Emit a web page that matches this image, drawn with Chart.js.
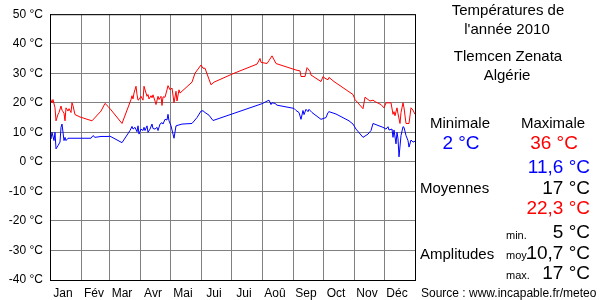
<!DOCTYPE html>
<html>
<head>
<meta charset="utf-8">
<script src="https://cdn.jsdelivr.net/npm/chart.js@4"></script>
<style>
  body { margin: 0; background: #fff; }
  canvas { display: block; }
</style>
</head>
<body>
<canvas id="temps" width="600" height="300"></canvas>
<script>
// day of year (0 = 1 Jan) and daily temperatures
const maxDays = [0, 2, 3, 5, 6, 8, 9, 11, 12, 14, 15, 16, 18, 19, 21, 22, 23, 25, 30, 42, 51, 55, 58, 61, 72,
  81, 82, 83, 84, 86, 87, 88, 89, 91, 93, 94, 96, 97, 98, 99, 101, 102, 103, 105, 106, 108, 109, 111, 112, 113,
  115, 117, 118, 120, 122, 124, 126, 127, 129, 130, 142, 145, 151, 153, 155, 161, 164, 184, 207, 210, 211, 217,
  219, 222, 226, 246, 250, 251, 255, 257, 258, 260, 261, 271, 273, 275, 278, 279, 284, 303, 305, 313, 315, 318,
  320, 323, 325, 331, 334, 336, 341, 343, 344, 345, 346, 347, 348, 350, 351, 353, 354, 356, 359, 361, 363, 365];
const maxTemps = [21.7, 20, 21.1, 18.3, 13.9, 16.1, 16.7, 18.9, 17.5, 16.5, 13.9, 18.3, 17.2, 18, 16.7, 20, 19, 16, 15.2, 13.9, 17.2, 19.8, 18.8, 17.6, 13,
  21.1, 22.4, 21.3, 23.3, 25.6, 22.8, 20.9, 21.1, 22.2, 20.9, 25.6, 23.3, 22.2, 22.8, 21.3, 22.4, 21.7, 22.7, 20.6, 19.4, 22.2, 21.1, 22.2, 19.1, 22,
  21.9, 24.4, 25.8, 24.4, 25, 20, 23.9, 20.6, 24.4, 23.3, 27, 30, 32.8, 31.7, 31.7, 26.1, 27, 30, 33.1, 35, 33.7, 33.3,
  34.3, 35.9, 33.3, 31.1, 30.8, 28.9, 28.9, 31.9, 31.5, 30.6, 29.4, 27.2, 28.9, 28.3, 27.8, 28.6, 27.2, 22.8, 21.1, 18, 21.9, 21.1,
  20.6, 20.9, 20.4, 19.4, 18.3, 20, 20, 16.1, 17, 15.6, 17, 18.3, 16.3, 13, 16.7, 20, 18.3, 13, 13, 18.3, 17.5, 16.1];

const minDays = [0, 1, 2, 4, 5, 6, 8, 10, 11, 12, 14, 15, 16, 18, 41, 43, 45, 51, 58, 60, 72, 80, 82, 83, 85, 87,
  88, 89, 91, 93, 94, 95, 97, 98, 100, 102, 103, 105, 107, 108, 110, 112, 113, 115, 117, 118, 119, 121, 123, 124,
  126, 128, 132, 142, 147, 151, 153, 155, 159, 163, 212, 219, 221, 222, 225, 227, 244, 246, 249, 251, 253, 254,
  256, 258, 259, 262, 271, 276, 278, 279, 286, 299, 303, 306, 313, 318, 321, 323, 329, 333, 336, 338, 339, 342,
  343, 344, 346, 347, 348, 349, 351, 353, 354, 356, 358, 359, 361, 363, 365];
const minTemps = [9.4, 7.8, 10, 7.2, 10, 4.4, 5.5, 6.7, 11.7, 12.8, 7.2, 8.3, 7.2, 8, 8, 8.9, 8.3, 8.6, 8.6, 8.7, 6.5, 10.6, 12, 11.1, 11.7, 10.2,
  12.2, 9.4, 11.1, 10.6, 11.7, 10.6, 12.2, 10, 11.1, 12.8, 11.3, 11.1, 11.7, 10.6, 12.8, 13.3, 12.8, 14.4, 14.2, 16.1, 13.9, 12.2, 9.4, 8,
  12.2, 12.4, 12.8, 13, 15, 17.2, 17.3, 16.7, 15.8, 14, 19.7, 20.9, 19.4, 20, 19.8, 19.2, 18.1, 17.4, 16.7, 14.4, 17.4, 16,
  17.8, 17, 17.8, 16.7, 14.4, 15, 16.7, 17, 16.2, 13.9, 12.8, 11.1, 8.3, 9.4, 10.6, 13, 12.2, 11.7, 11.1, 11.9, 10.8, 11.1,
  8.3, 10.8, 6.1, 10, 7.8, 1.7, 8.9, 11.9, 11.7, 8.9, 7.2, 5, 7.4, 6.7, 7];

const monthStarts = [0, 31, 59, 90, 120, 151, 181, 212, 243, 273, 304, 334, 365];
const monthLabels = ['Jan', 'Fév', 'Mar', 'Avr', 'Mai', 'Jui', 'Jui', 'Aoû', 'Sep', 'Oct', 'Nov', 'Déc', ''];

const titleLines = ['Températures de', "l'année 2010", 'Tlemcen Zenata', 'Algérie'];
const extremes = ['2 °C', '36 °C'];
const averages = ['11,6 °C', '17 °C', '22,3 °C'];
const amplitudes = ['5 °C', '10,7 °C', '17 °C'];

const FONT = '"Liberation Sans", Arial, sans-serif';
const BLUE = '#0000ff', RED = '#ff0000';

const sidePanel = {
  id: 'sidePanel',
  afterDraw(chart) {
    const ctx = chart.ctx, a = chart.chartArea;
    ctx.save();
    ctx.strokeStyle = '#000';
    ctx.lineWidth = 1;
    ctx.strokeRect(a.left + 0.5, a.top + 0.5, a.right - a.left, a.bottom - a.top);

    ctx.textBaseline = 'middle';
    ctx.fillStyle = '#000';
    ctx.textAlign = 'center';
    ctx.font = '15px ' + FONT;
    ctx.fillText(titleLines[0], 508, 11);
    ctx.fillText(titleLines[1], 507, 30);
    ctx.fillText(titleLines[2], 508, 57);
    ctx.fillText(titleLines[3], 507, 76);
    ctx.fillText('Minimale', 460, 124);
    ctx.fillText('Maximale', 553, 124);

    ctx.font = '19px ' + FONT;
    ctx.fillStyle = BLUE;
    ctx.fillText(extremes[0], 461, 144);
    ctx.fillStyle = RED;
    ctx.fillText(extremes[1], 554, 144);

    ctx.textAlign = 'right';
    ctx.fillStyle = BLUE;
    ctx.fillText(averages[0], 590, 168);
    ctx.fillStyle = '#000';
    ctx.fillText(averages[1], 590, 189);
    ctx.fillStyle = RED;
    ctx.fillText(averages[2], 590, 209);
    ctx.fillStyle = '#000';
    ctx.fillText(amplitudes[0], 590, 233);
    ctx.fillText(amplitudes[1], 590, 254);
    ctx.fillText(amplitudes[2], 590, 274);

    ctx.textAlign = 'left';
    ctx.font = '15px ' + FONT;
    ctx.fillText('Moyennes', 420, 189);
    ctx.fillText('Amplitudes', 420, 255);
    ctx.font = '11px ' + FONT;
    ctx.fillText('min.', 506, 236);
    ctx.fillText('moy.', 506, 256);
    ctx.fillText('max.', 506, 276);
    ctx.font = '12px ' + FONT;
    ctx.fillText('Source : www.incapable.fr/meteo', 421, 294);
    ctx.restore();
  }
};

new Chart(document.getElementById('temps'), {
  type: 'line',
  data: {
    datasets: [{
      label: 'Maximale',
      data: maxDays.map((d, i) => ({ x: d, y: maxTemps[i] })),
      borderColor: RED,
      borderWidth: 1,
      pointRadius: 0,
      tension: 0
    }, {
      label: 'Minimale',
      data: minDays.map((d, i) => ({ x: d, y: minTemps[i] })),
      borderColor: BLUE,
      borderWidth: 1,
      pointRadius: 0,
      tension: 0
    }]
  },
  options: {
    responsive: false,
    animation: false,
    events: [],
    layout: { padding: { left: 0, right: 185, top: 10, bottom: 0 } },
    plugins: { legend: { display: false }, tooltip: { enabled: false } },
    scales: {
      x: {
        type: 'linear',
        min: 0,
        max: 365,
        afterBuildTicks: s => { s.ticks = monthStarts.map(v => ({ value: v })); },
        afterFit: s => { s.height = 20; },
        grid: { color: '#808080', drawTicks: false },
        border: { color: '#000' },
        ticks: {
          autoSkip: false,
          maxRotation: 0,
          padding: 6,
          labelOffset: 13,
          color: '#000',
          font: { family: FONT, size: 12 },
          callback: (v, i) => monthLabels[i]
        }
      },
      y: {
        min: -40,
        max: 50,
        afterFit: s => { s.width = 50; },
        grid: { color: '#808080', drawTicks: false },
        border: { color: '#000' },
        ticks: {
          stepSize: 10,
          padding: 7,
          color: '#000',
          font: { family: FONT, size: 12 },
          callback: v => v + ' °C'
        }
      }
    }
  },
  plugins: [sidePanel]
});
</script>
</body>
</html>
